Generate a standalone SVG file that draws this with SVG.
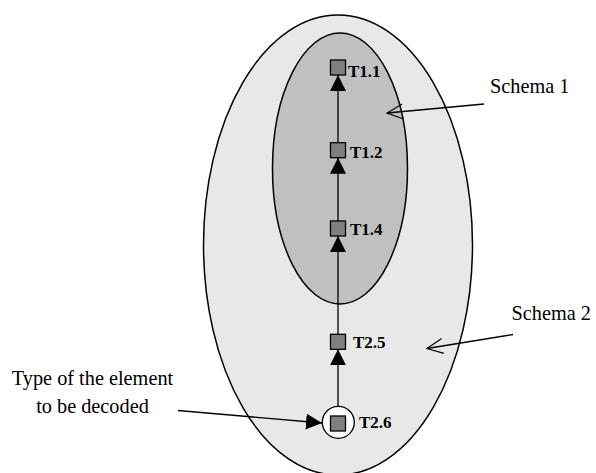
<svg xmlns="http://www.w3.org/2000/svg" width="596" height="473" viewBox="0 0 596 473">
<style>
.lbl{font-family:"Liberation Serif","Times New Roman",serif;font-weight:bold;font-size:17px;fill:#000}
.txt{font-family:"Liberation Serif","Times New Roman",serif;font-size:20.3px;fill:#000}
.sq{fill:#808080;stroke:#000;stroke-width:1.3}
.edge{stroke:#000;stroke-width:1.3;fill:none}
</style>
<defs>
<marker id="tri" markerUnits="userSpaceOnUse" markerWidth="16" markerHeight="16" viewBox="0 0 14 14" refX="14" refY="7" orient="auto">
<path d="M0,0 L14,7 L0,14 Z" fill="#000"/>
</marker>
<marker id="open" markerUnits="userSpaceOnUse" markerWidth="18" markerHeight="18" viewBox="0 0 18 18" refX="17" refY="9" orient="auto">
<path d="M1,1.5 L17,9 L1,16.5" fill="none" stroke="#000" stroke-width="1.2"/>
</marker>
</defs>
<rect width="596" height="473" fill="#fff"/>
<g id="schema2">
<ellipse cx="338" cy="245" rx="134.5" ry="230" fill="#e8e8e8" stroke="#000" stroke-width="1.5"/>
</g>
<g id="schema1">
<ellipse cx="340" cy="168.5" rx="67.5" ry="135.5" fill="#c0c0c0" stroke="#000" stroke-width="1.5"/>
</g>
<g id="connectors">
<line class="edge" x1="338" y1="142.7" x2="338" y2="75" marker-end="url(#tri)"/>
<line class="edge" x1="338" y1="221" x2="338" y2="157.7" marker-end="url(#tri)"/>
<line class="edge" x1="338" y1="334.3" x2="338" y2="236" marker-end="url(#tri)"/>
<line class="edge" x1="338" y1="406.5" x2="338" y2="349.3" marker-end="url(#tri)"/>
<line class="edge" x1="178" y1="410.5" x2="322" y2="423" marker-end="url(#tri)"/>
<line class="edge" x1="484" y1="104" x2="387" y2="113" marker-end="url(#open)"/>
<line class="edge" x1="513" y1="334.5" x2="427" y2="348.5" marker-end="url(#open)"/>
</g>
<g id="T1.1">
<rect class="sq" x="330.5" y="60" width="15" height="15"/>
<text class="lbl" x="348" y="77">T1.1</text>
</g>
<g id="T1.2">
<rect class="sq" x="330.5" y="142.7" width="15" height="15"/>
<text class="lbl" x="350" y="157.7">T1.2</text>
</g>
<g id="T1.4">
<rect class="sq" x="330.5" y="221" width="15" height="15"/>
<text class="lbl" x="350" y="235">T1.4</text>
</g>
<g id="T2.5">
<rect class="sq" x="330.5" y="334.3" width="15" height="15"/>
<text class="lbl" x="353" y="347.5">T2.5</text>
</g>
<g id="T2.6">
<circle cx="338.3" cy="422.3" r="16" fill="#fff" stroke="#000" stroke-width="1.3"/>
<rect class="sq" x="330.5" y="416" width="15" height="15"/>
<text class="lbl" x="359" y="428">T2.6</text>
</g>
<g id="labels">
<text class="txt" x="490" y="92.5">Schema 1</text>
<text class="txt" x="511.5" y="319.5">Schema 2</text>
<text class="txt" x="92.5" y="385" text-anchor="middle">Type of the element</text>
<text class="txt" x="92.5" y="413" text-anchor="middle">to be decoded</text>
</g>
</svg>
